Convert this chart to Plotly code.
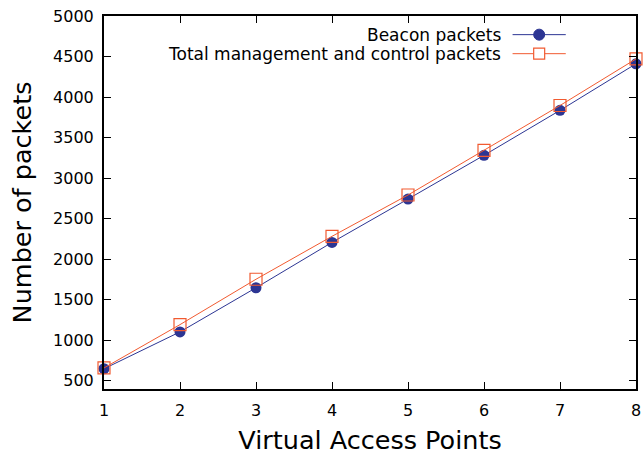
import plotly.graph_objects as go

vaps = [1, 2, 3, 4, 5, 6, 7, 8]
beacon = [645, 1100, 1645, 2205, 2740, 3280, 3835, 4410]
total = [655, 1190, 1750, 2280, 2790, 3340, 3895, 4470]
names = ["Beacon packets", "Total management and control packets"]
blue = "#2c3593"
orange = "#f15a30"
yticks = [500, 1000, 1500, 2000, 2500, 3000, 3500, 4000, 4500, 5000]

fig = go.Figure()
fig.add_trace(go.Scatter(x=vaps, y=beacon, mode="lines+markers", name=names[0],
                         line=dict(color=blue, width=1),
                         marker=dict(symbol="circle", size=11, color=blue),
                         cliponaxis=False, showlegend=False))
fig.add_trace(go.Scatter(x=vaps, y=total, mode="lines+markers", name=names[1],
                         line=dict(color=orange, width=1),
                         marker=dict(symbol="square-open", size=12, color=orange,
                                     line=dict(width=1.2)),
                         cliponaxis=False, showlegend=False))

font = "DejaVu Sans"
fig.update_layout(
    width=643, height=455,
    margin=dict(l=104, r=7, t=16, b=66),
    paper_bgcolor="white", plot_bgcolor="white",
    font=dict(family=font, color="black", size=16),
    xaxis=dict(range=[1, 8], tickvals=vaps, ticks="inside", ticklen=7,
               tickcolor="black", mirror="ticks", showline=True, linecolor="black",
               linewidth=2, showgrid=False, zeroline=False, automargin=False,
               ticklabeloverflow="allow", ticklabelstandoff=6,
               title=dict(text="Virtual Access Points", font=dict(size=25.5), standoff=12),
               tickfont=dict(size=16)),
    yaxis=dict(range=[395, 5000], tickvals=yticks, ticks="inside", ticklen=7,
               tickcolor="black", mirror="ticks", showline=True, linecolor="black",
               linewidth=2, showgrid=False, zeroline=False, automargin=False,
               ticklabeloverflow="allow", ticklabelstandoff=5,
               title=dict(text="Number of packets", font=dict(size=25.5), standoff=14),
               tickfont=dict(size=16)),
)

# custom legend (text on left, sample on right, gnuplot style)
legend_rows = [(names[0], blue, "circle", 0.95), (names[1], orange, "square", 0.899)]
for text, col, sym, yp in legend_rows:
    fig.add_annotation(x=0.75, y=yp, xref="paper", yref="paper", text=text,
                       showarrow=False, xanchor="right", yanchor="middle",
                       font=dict(size=17, family=font, color="black"))
    fig.add_shape(type="line", xref="paper", yref="paper",
                  x0=0.768, x1=0.868, y0=yp, y1=yp, line=dict(color=col, width=1))
    cx = 0.818
    dx = 5.5 / 532
    dy = 5.5 / 373
    if sym == "circle":
        fig.add_shape(type="circle", xref="paper", yref="paper",
                      x0=cx - dx, x1=cx + dx, y0=yp - dy, y1=yp + dy,
                      fillcolor=col, line=dict(color=col, width=1))
    else:
        fig.add_shape(type="rect", xref="paper", yref="paper",
                      x0=cx - dx, x1=cx + dx, y0=yp - dy, y1=yp + dy,
                      fillcolor="white", line=dict(color=col, width=1.2))

fig.write_html("out.html",
               config={"displayModeBar": False, "staticPlot": True},
               post_script="document.body.style.margin='0';document.body.style.overflow='hidden';")
